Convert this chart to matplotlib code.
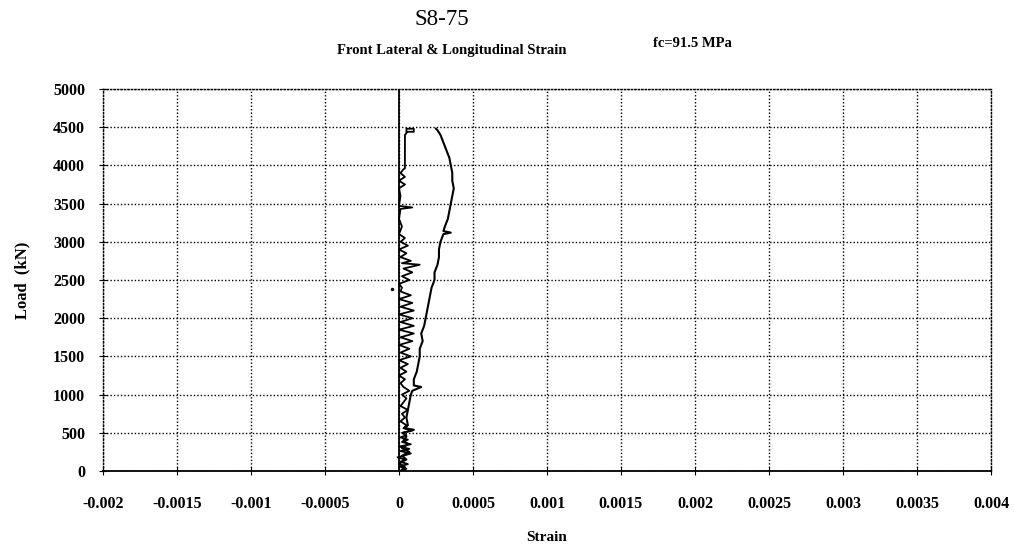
import numpy as np
import matplotlib
matplotlib.use("Agg")
import matplotlib.pyplot as plt

# S8-75, front lateral & longitudinal strain
load_a = [0, 30, 60, 90, 120, 150, 180, 200, 230, 260, 290, 320, 350, 380, 410,
          440, 470, 500, 530, 560, 600, 650, 700, 750, 800, 850, 900, 950, 1000,
          1050, 1100, 1150, 1200, 1250, 1300, 1350, 1400, 1450, 1500, 1550, 1600,
          1650, 1700, 1750, 1800, 1850, 1900, 1950, 2000, 2050, 2100, 2150, 2200,
          2250, 2300, 2350, 2400, 2450, 2500, 2550, 2600, 2650, 2700, 2720, 2750,
          2800, 2850, 2900, 2950, 3000, 3050, 3100, 3200, 3300, 3430, 3450, 3470,
          3600, 3700, 3750, 3800, 3850, 3900, 3950, 3960, 4400, 4420, 4480, 4480,
          4440, 4440]
strain_a = [0.00002, 0.00005, 0.0, 0.00006, 0.00001, 0.00004, -0.00001, 0.00003,
            0.00008, 0.00001, 0.00007, 0.0, 0.00008, 0.00002, 0.00006, 0.00001,
            0.00005, 0.00002, 0.00009, 0.00003, 0.00005, 0.00001, 0.00004, 0.00002,
            0.00006, 0.00001, 0.00003, 0.00005, 0.00002, 0.00007, 0.00003, 0.00001,
            0.00004, 0.0, 0.00005, 0.00001, 0.00006, 0.0, 0.00008, 0.00001, 0.00007,
            0.0, 0.00009, 0.00001, 0.0001, 0.0, 0.0001, 0.00001, 0.00009, 0.0,
            0.0001, 0.00001, 0.00009, 0.0, 0.00008, 0.00001, 0.00002, 0.0, 0.00007,
            0.00002, 0.00009, 0.00003, 0.00014, 0.00002, 0.00008, 0.00001, 0.00005,
            0.0, 0.00006, 0.00001, 0.00004, 0.0, 0.00002, 0.0, 0.00001, 0.00009,
            0.0, 0.00001, 0.0, 0.00004, 0.0, 0.00004, 0.00001, 0.00003, 0.00004,
            0.00004, 0.00005, 0.00005, 0.0001, 0.0001, 0.00006]

load_b = [0, 50, 100, 150, 200, 250, 300, 350, 400, 450, 500, 540, 560, 600, 700,
          800, 900, 1000, 1050, 1100, 1120, 1200, 1300, 1400, 1500, 1600, 1700,
          1800, 1900, 2000, 2100, 2200, 2300, 2400, 2500, 2600, 2700, 2800, 2900,
          3000, 3100, 3120, 3140, 3200, 3300, 3400, 3500, 3600, 3700, 3800, 3900,
          4000, 4100, 4200, 4300, 4400, 4460, 4480]
strain_b = [0.00001, 0.00004, 0.0, 0.00005, 0.00002, 0.00007, 0.00002, 0.00006,
            0.00003, 0.00005, 0.00003, 0.0001, 0.00004, 0.00006, 0.00005, 0.00006,
            0.00007, 0.00008, 0.00009, 0.00015, 0.0001, 0.0001, 0.00012, 0.00013,
            0.00014, 0.00014, 0.00016, 0.00015, 0.00017, 0.00018, 0.00019, 0.0002,
            0.00021, 0.00022, 0.00024, 0.00024, 0.00026, 0.00027, 0.00027, 0.00028,
            0.0003, 0.00035, 0.0003, 0.00031, 0.00033, 0.00034, 0.00035, 0.00036,
            0.00037, 0.00036, 0.00036, 0.00035, 0.00034, 0.00032, 0.0003, 0.00028,
            0.00026, 0.00025]

stray_x = [-0.00005]
stray_y = [2380]

xticks = [-0.002, -0.0015, -0.001, -0.0005, 0, 0.0005, 0.001, 0.0015, 0.002,
          0.0025, 0.003, 0.0035, 0.004]
xlabels = ["-0.002", "-0.0015", "-0.001", "-0.0005", "0", "0.0005", "0.001",
           "0.0015", "0.002", "0.0025", "0.003", "0.0035", "0.004"]
yticks = list(range(0, 5001, 500))

plt.rcParams['font.family'] = ['Liberation Serif', 'DejaVu Serif']

fig = plt.figure(figsize=(10.14, 5.48), dpi=100)
ax = fig.add_axes([0.1016, 0.1405, 0.8757, 0.6971])

ax.set_xlim(-0.002, 0.004)
ax.set_ylim(0, 5000)
ax.set_xticks(xticks)
ax.set_xticklabels(xlabels)
ax.set_yticks(yticks)
ax.grid(True, color="black", linestyle=(0, (1, 1.5)), linewidth=1.0)

ax.axvline(0, color="black", linewidth=1.3, zorder=3)
ax.plot(strain_a, load_a, color="black", linewidth=1.3, zorder=4)
ax.plot(strain_b, load_b, color="black", linewidth=1.5, zorder=4)
ax.plot(stray_x, stray_y, "k.", markersize=3)

for s in ["top", "right", "left"]:
    ax.spines[s].set_linestyle((0, (1, 1.5)))
    ax.spines[s].set_linewidth(1.0)
ax.spines["bottom"].set_linewidth(1.3)

ax.tick_params(axis="x", direction="inout", length=6, labelsize=11.5, pad=15)
ax.tick_params(axis="y", direction="inout", length=6, labelsize=11.5, pad=10)
for lab in ax.get_xticklabels() + ax.get_yticklabels():
    lab.set_fontweight("bold")

ax.set_xlabel("Strain", fontsize=11, fontweight="bold", labelpad=14)
ax.set_ylabel("Load  (kN)", fontsize=12, fontweight="bold", labelpad=16)

fig.text(0.436, 0.965, "S8-75", ha="center", va="center", fontsize=16.5)
fig.text(0.446, 0.907, "Front Lateral & Longitudinal Strain", ha="center", va="center",
         fontsize=10.5, fontweight="bold")
fig.text(0.683, 0.92, "fc=91.5 MPa", ha="center", va="center", fontsize=10.5,
         fontweight="bold")

fig.savefig("out.png", dpi=100)
